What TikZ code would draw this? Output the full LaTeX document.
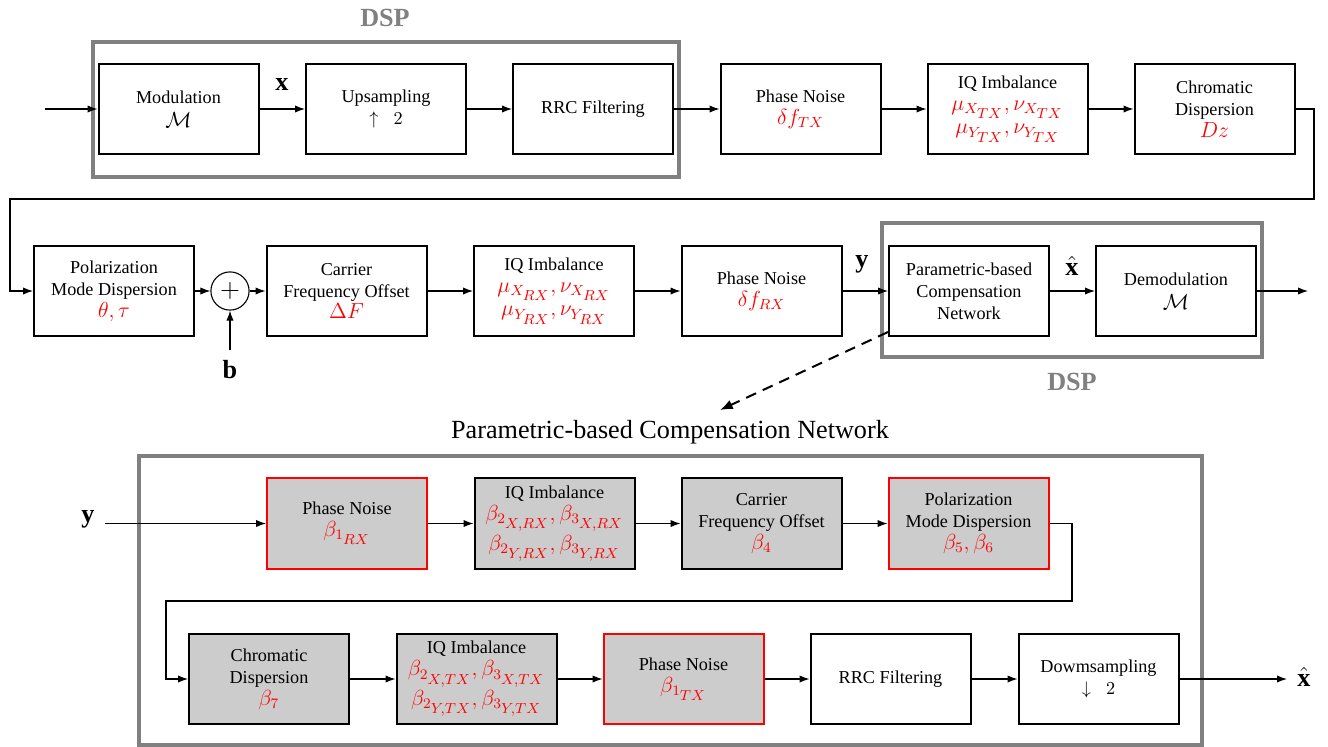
\documentclass[tikz,border=0pt]{standalone}
\usepackage{fontspec}
\setmainfont{Liberation Serif}
\usetikzlibrary{arrows.meta}
\tikzset{
  blk/.style={draw, line width=1.1pt, minimum width=88pt, minimum height=50pt, align=center, inner sep=1pt, font=\normalsize},
  gblk/.style={blk, fill=black!20},
  rblk/.style={gblk, draw=red},
  cont/.style={draw=black!50, line width=2pt},
  arr/.style={-{Latex[length=5.5pt,width=4pt]}, line width=0.6pt},
  dsplbl/.style={font=\Large\bfseries, text=black!50},
  vlbl/.style={font=\Large, inner sep=2pt}
}
\newcommand{\rd}[1]{{\large\color{red}$#1$}}
\newcommand{\bk}[1]{{\large$#1$}}
\newcommand{\sst}[1]{{\scriptstyle #1}}
\begin{document}
\begin{tikzpicture}[x=0.55pt,y=-0.55pt]
\useasboundingbox (0,0) rectangle (1328,747);
% containers
\draw[cont] (93,42) rectangle (679,177);
\node[dsplbl] (dsp1) at (385,18) {DSP};
\draw[cont] (882,223) rectangle (1262,357);
\node[dsplbl] (dsp2) at (1072,382) {DSP};
\draw[cont] (139,456) rectangle (1202,745);
\node[font=\Large] (title) at (670,432) {Parametric-based Compensation Network};

% top row
\node[blk] (mod) at (178.5,109) {Modulation\\[1pt]\bk{\mathcal{M}}};
\node[blk] (up) at (386,109) {Upsampling\\$\uparrow\;\;2$};
\node[blk] (rrc) at (593,109) {RRC Filtering};
\node[blk] (pntx) at (800.5,109) {Phase Noise\\\rd{\delta f_{TX}}};
\node[blk] (iqtx) at (1007.5,109) {IQ Imbalance\\\rd{\mu_{X_{\sst{TX}}},\nu_{X_{\sst{TX}}}}\\[1pt]\rd{\mu_{Y_{\sst{TX}}},\nu_{Y_{\sst{TX}}}}};
\node[blk] (cd) at (1214.5,109) {Chromatic\\Dispersion\\\rd{Dz}};

% middle row
\node[blk] (pol) at (114,291) {Polarization\\Mode Dispersion\\\rd{\theta,\tau}};
\node[circle, draw, line width=0.6pt, minimum size=21pt, inner sep=0pt] (sum) at (230,291) {\Large$+$};
\node[blk] (cfo) at (346.5,291) {Carrier\\Frequency Offset\\\rd{\Delta F}};
\node[blk] (iqrx) at (554,291) {IQ Imbalance\\\rd{\mu_{X_{\sst{RX}}},\nu_{X_{\sst{RX}}}}\\[1pt]\rd{\mu_{Y_{\sst{RX}}},\nu_{Y_{\sst{RX}}}}};
\node[blk] (pnrx) at (761.5,291) {Phase Noise\\\rd{\delta f_{RX}}};
\node[blk] (param) at (969,291) {Parametric-based\\Compensation\\Network};
\node[blk] (demod) at (1176,291) {Demodulation\\[1pt]\bk{\mathcal{M}}};

% bottom row 1
\node[rblk] (bpnrx) at (347,523.5) {Phase Noise\\\rd{\beta_{1_{\sst{RX}}}}};
\node[gblk] (biqrx) at (554.5,523.5) {IQ Imbalance\\\rd{\beta_{2_{\sst{X,RX}}},\beta_{3_{\sst{X,RX}}}}\\[1pt]\rd{\beta_{2_{\sst{Y,RX}}},\beta_{3_{\sst{Y,RX}}}}};
\node[gblk] (bcfo) at (761.5,523.5) {Carrier\\Frequency Offset\\\rd{\beta_4}};
\node[rblk] (bpol) at (968.5,523.5) {Polarization\\Mode Dispersion\\\rd{\beta_5,\beta_6}};

% bottom row 2
\node[gblk] (bcd) at (269,679) {Chromatic\\Dispersion\\\rd{\beta_7}};
\node[gblk] (biqtx) at (476.5,679) {IQ Imbalance\\\rd{\beta_{2_{\sst{X,TX}}},\beta_{3_{\sst{X,TX}}}}\\[1pt]\rd{\beta_{2_{\sst{Y,TX}}},\beta_{3_{\sst{Y,TX}}}}};
\node[rblk] (bpntx) at (683.5,679) {Phase Noise\\\rd{\beta_{1_{\sst{TX}}}}};
\node[blk] (brrc) at (890.5,679) {RRC Filtering};
\node[blk] (bds) at (1098.5,679) {Dowmsampling\\$\downarrow\;\;2$};

% labels
\node[vlbl] (xl) at (282,84) {$\mathbf{x}$};
\node[vlbl] (bl) at (230,370) {$\mathbf{b}$};
\node[vlbl] (yl) at (862,264) {$\mathbf{y}$};
\node[vlbl] (xhl) at (1072,266) {$\hat{\mathbf{x}}$};
\node[vlbl] (yin) at (88,519) {$\mathbf{y}$};
\node[vlbl] (xhout) at (1304,677) {$\hat{\mathbf{x}}$};

% coordinates
\coordinate (in) at (45,109);
\coordinate (r1) at (1314,199);
\coordinate (r2) at (10,199);
\coordinate (bup) at (230,350);
\coordinate (out) at (1308,291);
\coordinate (dend) at (720,410);
\coordinate (s1) at (1072,601);
\coordinate (s2) at (166,601);
\coordinate (yst) at (105,523.5);
\coordinate (xend) at (1287,679);

% connectors top
\draw[arr] (in) -- (mod);
\draw[arr] (mod) -- (up);
\draw[arr] (up) -- (rrc);
\draw[arr] (rrc) -- (pntx);
\draw[arr] (pntx) -- (iqtx);
\draw[arr] (iqtx) -- (cd);
\draw[arr] (cd.east) -| (r1) -- (r2) |- (pol.west);
% middle
\draw[arr] (pol) -- (sum);
\draw[arr] (sum) -- (cfo);
\draw[arr] (bup) -- (sum.south);
\draw[arr] (cfo) -- (iqrx);
\draw[arr] (iqrx) -- (pnrx);
\draw[arr] (pnrx) -- (param);
\draw[arr] (param) -- (demod);
\draw[arr] (demod.east) -- (out);
\draw[-{Latex[length=7pt,width=5.5pt]}, line width=1.1pt, dash pattern=on 6pt off 4pt] ([yshift=3pt]param.south west) -- (dend);
% bottom
\draw[arr] (yst) -- (bpnrx.west);
\draw[arr] (bpnrx) -- (biqrx);
\draw[arr] (biqrx) -- (bcfo);
\draw[arr] (bcfo) -- (bpol);
\draw[arr] (bpol.east) -| (s1) -- (s2) |- (bcd.west);
\draw[arr] (bcd) -- (biqtx);
\draw[arr] (biqtx) -- (bpntx);
\draw[arr] (bpntx) -- (brrc);
\draw[arr] (brrc) -- (bds);
\draw[arr] (bds.east) -- (xend);
\end{tikzpicture}
\end{document}
